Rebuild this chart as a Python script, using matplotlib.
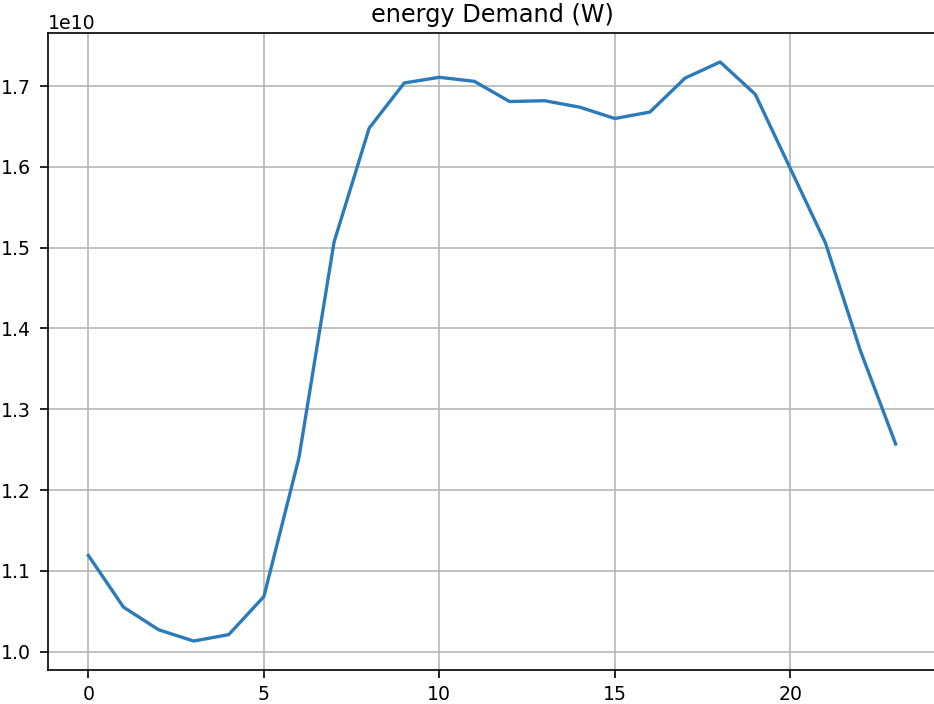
import numpy as np
import matplotlib
matplotlib.use("Agg")
import matplotlib.pyplot as plt

# hour of day and energy demand (W)
horas = list(range(24))
demanda = [1.119, 1.055, 1.027, 1.013, 1.021, 1.068, 1.240, 1.507,
           1.648, 1.704, 1.711, 1.706, 1.681, 1.682, 1.674, 1.660,
           1.668, 1.710, 1.730, 1.690, 1.598, 1.506, 1.372, 1.257]
demanda = np.array(demanda) * 1e10

plt.rcParams['font.size'] = 13.6

fig = plt.figure(figsize=(9.34, 7.04), dpi=100)
ax = fig.add_axes([48/934, 34/704, 888/934, 637/704])

ax.plot(horas, demanda, color='#2b7bba', linewidth=2.4)
ax.set_title("energy Demand (W)", fontsize=17.3, pad=8)
ax.grid(True, color='#b0b0b0', linewidth=1.1)
ax.set_xticks([0, 5, 10, 15, 20])
for s in ax.spines.values():
    s.set_linewidth(1.2)
ax.tick_params(length=6, width=1.2)
ax.tick_params(axis='y', pad=6.5)
ax.tick_params(axis='x', pad=4.5)

fig.savefig("out.png", dpi=100)
